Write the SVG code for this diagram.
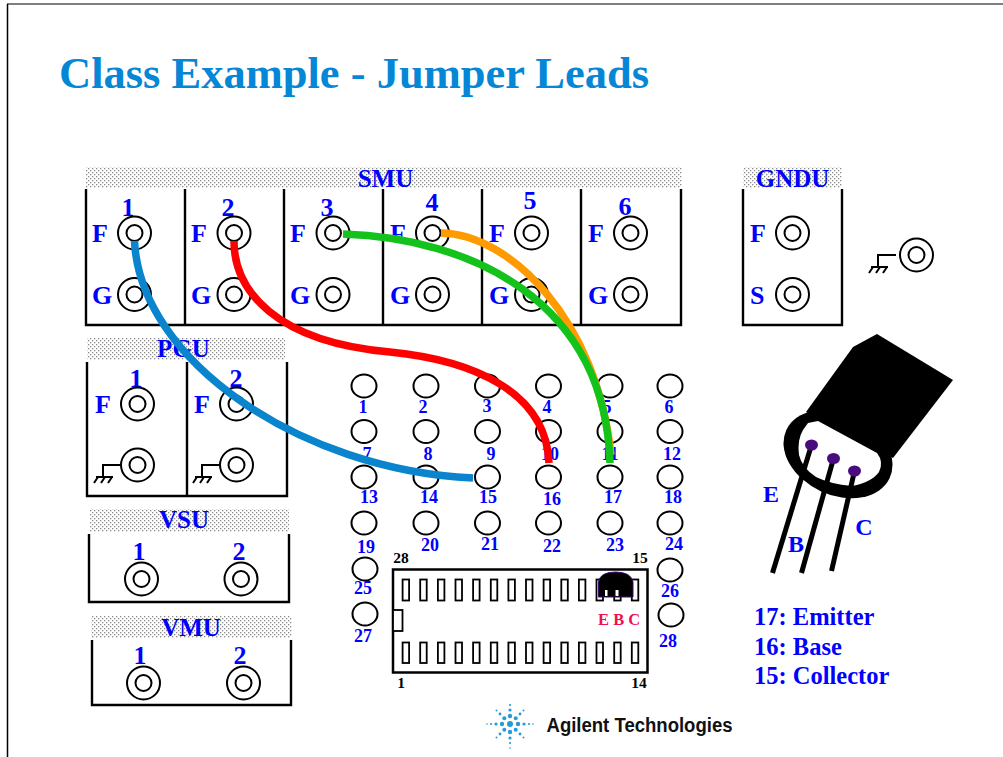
<svg xmlns="http://www.w3.org/2000/svg" xmlns:xlink="http://www.w3.org/1999/xlink" width="1003" height="757" viewBox="0 0 1003 757">
  <style>
    .lbl { font-family: "Liberation Serif", "Times New Roman", serif; font-weight: bold; fill: #0000ff; }
    .big { font-size: 26px; }
    .mid { text-anchor: middle; }
    .hdr { font-size: 25px; text-anchor: middle; }
    .num { font-size: 18px; text-anchor: middle; }
    .chipn { font-family: "Liberation Serif", serif; font-weight: bold; font-size: 15.5px; fill: #000; text-anchor: middle; }
    .frame { fill: none; stroke: #000; stroke-width: 2.4; }
    .band { fill: url(#dots); }
    .jack circle { fill: #fff; stroke: #000; stroke-width: 2; }
    .hole { fill: #fff; stroke: #000; stroke-width: 2; }
    .pin { fill: #fff; stroke: #000; stroke-width: 1.8; }
    .gnd { fill: none; stroke: #000; stroke-width: 2; }
    .cable { fill: none; stroke-width: 7.5; stroke-linecap: butt; }
    .lead { stroke: #000; stroke-width: 5; }
  </style>
  <defs>
    <pattern id="dots" width="4" height="4" patternUnits="userSpaceOnUse">
      <rect width="4" height="4" fill="#fff"/>
      <rect x="0" y="0" width="1.3" height="1.3" fill="#8a8a8a"/>
      <rect x="2" y="2" width="1.3" height="1.3" fill="#8a8a8a"/>
    </pattern>
    <g id="jack" class="jack">
      <circle r="16.5"/>
      <circle r="8"/>
    </g>
    <ellipse id="hole" class="hole" rx="12.5" ry="11.5"/>
    <!-- chassis ground: stub, bar and three hatch strokes -->
    <path id="gndsym" class="gnd" d="M0,0 H-18 V12 M-25,12 H-8 M-23,12 l-4,6 M-16,12 l-4,6 M-9,12 l-4,6"/>
  </defs>

  <rect width="1003" height="757" fill="#fff"/>
  <line x1="7" y1="4" x2="1003" y2="4" stroke="#555" stroke-width="1.5"/>
  <line x1="7.5" y1="4" x2="7.5" y2="757" stroke="#000" stroke-width="1.5"/>

  <text x="59" y="88" font-family="Liberation Serif, serif" font-weight="bold" font-size="44.5" fill="#0687d6">Class Example - Jumper Leads</text>

  <!-- SMU rack -->
  <g id="smu">
    <rect class="band" x="86" y="167" width="596" height="21"/>
    <text class="lbl hdr" x="385.5" y="187">SMU</text>
    <path class="frame" d="M86,189 V325 H681 V189 M185,189 V325 M284,189 V325 M383,189 V325 M482,189 V325 M581,189 V325"/>
    <g class="lbl big mid">
      <text x="128" y="216">1</text>
      <text x="228" y="216">2</text>
      <text x="327" y="216">3</text>
      <text x="432" y="211">4</text>
      <text x="530" y="209">5</text>
      <text x="625" y="215">6</text>
    </g>
    <g class="lbl big">
      <text x="92" y="242">F</text><text x="92" y="304">G</text>
      <text x="191" y="242">F</text><text x="191" y="304">G</text>
      <text x="290" y="242">F</text><text x="290" y="304">G</text>
      <text x="390" y="242">F</text><text x="390" y="304">G</text>
      <text x="489" y="242">F</text><text x="489" y="304">G</text>
      <text x="588" y="242">F</text><text x="588" y="304">G</text>
    </g>
    <use href="#jack" x="134.5" y="233"/><use href="#jack" x="134.5" y="294.5"/>
    <use href="#jack" x="234" y="233"/><use href="#jack" x="234" y="294.5"/>
    <use href="#jack" x="333" y="233"/><use href="#jack" x="333" y="294.5"/>
    <use href="#jack" x="432.5" y="233"/><use href="#jack" x="432.5" y="294.5"/>
    <use href="#jack" x="531.5" y="233"/><use href="#jack" x="531.5" y="294.5"/>
    <use href="#jack" x="630.5" y="233"/><use href="#jack" x="630.5" y="294.5"/>
  </g>

  <!-- GNDU -->
  <g id="gndu">
    <rect class="band" x="743" y="167" width="99" height="21"/>
    <text class="lbl hdr" x="792.5" y="187">GNDU</text>
    <path class="frame" d="M743,189 V325 H842 V189"/>
    <text class="lbl big" x="750" y="242">F</text>
    <text class="lbl big" x="750" y="304">S</text>
    <use href="#jack" x="792.5" y="233"/>
    <use href="#jack" x="792.5" y="294.5"/>
  </g>

  <!-- chassis ground terminal -->
  <g id="ground-terminal">
    <use href="#gndsym" x="896" y="255"/>
    <use href="#jack" x="916.5" y="255"/>
  </g>

  <!-- PGU -->
  <g id="pgu">
    <rect class="band" x="87" y="338" width="198" height="22"/>
    <text class="lbl hdr" x="183.5" y="357">PGU</text>
    <path class="frame" d="M87,362 V496 H287 V362 M187,362 V496"/>
    <text class="lbl big mid" x="136" y="387">1</text>
    <text class="lbl big mid" x="236" y="387">2</text>
    <text class="lbl big" x="95" y="413">F</text>
    <text class="lbl big" x="194" y="413">F</text>
    <use href="#jack" x="137.5" y="404"/>
    <use href="#jack" x="236.5" y="404"/>
    <use href="#gndsym" x="121" y="465"/>
    <use href="#gndsym" x="220" y="465"/>
    <use href="#jack" x="137.5" y="465"/>
    <use href="#jack" x="236.5" y="465"/>
  </g>

  <!-- VSU -->
  <g id="vsu">
    <rect class="band" x="90" y="509" width="199" height="23"/>
    <text class="lbl hdr" x="184" y="528">VSU</text>
    <path class="frame" d="M89,534 V602 H289 V534"/>
    <text class="lbl big mid" x="139" y="560">1</text>
    <text class="lbl big mid" x="239" y="560">2</text>
    <use href="#jack" x="141.5" y="579"/>
    <use href="#jack" x="241" y="579"/>
  </g>

  <!-- VMU -->
  <g id="vmu">
    <rect class="band" x="91" y="616" width="201" height="22"/>
    <text class="lbl hdr" x="191" y="636">VMU</text>
    <path class="frame" d="M92,640 V705 H291 V640"/>
    <text class="lbl big mid" x="140" y="664">1</text>
    <text class="lbl big mid" x="240" y="664">2</text>
    <use href="#jack" x="143.5" y="683"/>
    <use href="#jack" x="243.5" y="683"/>
  </g>

  <!-- test fixture socket holes -->
  <g id="holes">
    <use href="#hole" x="364" y="386"/><use href="#hole" x="426" y="386"/><use href="#hole" x="487.5" y="386"/><use href="#hole" x="548.5" y="386"/><use href="#hole" x="610" y="386"/><use href="#hole" x="670" y="386"/>
    <use href="#hole" x="364" y="431.5"/><use href="#hole" x="426" y="431.5"/><use href="#hole" x="487.5" y="431.5"/><use href="#hole" x="548.5" y="431.5"/><use href="#hole" x="610" y="431.5"/><use href="#hole" x="670" y="431.5"/>
    <use href="#hole" x="364" y="477"/><use href="#hole" x="426" y="477"/><use href="#hole" x="487.5" y="477"/><use href="#hole" x="548.5" y="477"/><use href="#hole" x="610" y="477"/><use href="#hole" x="670" y="477"/>
    <use href="#hole" x="364" y="523"/><use href="#hole" x="426" y="523"/><use href="#hole" x="487.5" y="523"/><use href="#hole" x="548.5" y="523"/><use href="#hole" x="610" y="523"/><use href="#hole" x="670" y="523"/>
    <use href="#hole" x="365" y="569"/><use href="#hole" x="365" y="614"/>
    <use href="#hole" x="670" y="570"/><use href="#hole" x="671" y="615"/>
    <g class="lbl num">
      <text x="363" y="413">1</text><text x="423" y="413">2</text><text x="487" y="412">3</text><text x="547" y="413">4</text><text x="607" y="413">5</text><text x="669" y="413">6</text>
      <text x="367" y="460">7</text><text x="428" y="460">8</text><text x="491" y="460">9</text><text x="550" y="460">10</text><text x="610" y="460">11</text><text x="672" y="460">12</text>
      <text x="369" y="503">13</text><text x="429" y="503">14</text><text x="488" y="503">15</text><text x="552" y="505">16</text><text x="613" y="503">17</text><text x="673" y="503">18</text>
      <text x="366" y="553">19</text><text x="430" y="551">20</text><text x="490" y="550">21</text><text x="552" y="552">22</text><text x="615" y="551">23</text><text x="674" y="550">24</text>
      <text x="363" y="594">25</text><text x="670" y="597">26</text><text x="363" y="642">27</text><text x="668" y="647">28</text>
    </g>
  </g>

  <!-- 28-pin socket with the device fitted -->
  <g id="socket">
    <rect x="393" y="569.5" width="254.5" height="103" fill="#fff" stroke="#000" stroke-width="2.5"/>
    <rect class="pin" x="393" y="610" width="9.5" height="21"/>
    <g id="pins-top">
      <rect class="pin" x="402.6" y="579.5" width="6.5" height="21"/>
      <rect class="pin" x="420.2" y="579.5" width="6.5" height="21"/>
      <rect class="pin" x="437.9" y="579.5" width="6.5" height="21"/>
      <rect class="pin" x="455.5" y="579.5" width="6.5" height="21"/>
      <rect class="pin" x="473.1" y="579.5" width="6.5" height="21"/>
      <rect class="pin" x="490.8" y="579.5" width="6.5" height="21"/>
      <rect class="pin" x="508.4" y="579.5" width="6.5" height="21"/>
      <rect class="pin" x="526.0" y="579.5" width="6.5" height="21"/>
      <rect class="pin" x="543.6" y="579.5" width="6.5" height="21"/>
      <rect class="pin" x="561.3" y="579.5" width="6.5" height="21"/>
      <rect class="pin" x="578.9" y="579.5" width="6.5" height="21"/>
      <rect class="pin" x="596.5" y="579.5" width="6.5" height="21"/>
      <rect class="pin" x="614.2" y="579.5" width="6.5" height="21"/>
      <rect class="pin" x="631.8" y="579.5" width="6.5" height="21"/>
    </g>
    <g id="pins-bottom">
      <rect class="pin" x="402.6" y="642.5" width="6.5" height="20.5"/>
      <rect class="pin" x="420.2" y="642.5" width="6.5" height="20.5"/>
      <rect class="pin" x="437.9" y="642.5" width="6.5" height="20.5"/>
      <rect class="pin" x="455.5" y="642.5" width="6.5" height="20.5"/>
      <rect class="pin" x="473.1" y="642.5" width="6.5" height="20.5"/>
      <rect class="pin" x="490.8" y="642.5" width="6.5" height="20.5"/>
      <rect class="pin" x="508.4" y="642.5" width="6.5" height="20.5"/>
      <rect class="pin" x="526.0" y="642.5" width="6.5" height="20.5"/>
      <rect class="pin" x="543.6" y="642.5" width="6.5" height="20.5"/>
      <rect class="pin" x="561.3" y="642.5" width="6.5" height="20.5"/>
      <rect class="pin" x="578.9" y="642.5" width="6.5" height="20.5"/>
      <rect class="pin" x="596.5" y="642.5" width="6.5" height="20.5"/>
      <rect class="pin" x="614.2" y="642.5" width="6.5" height="20.5"/>
      <rect class="pin" x="631.8" y="642.5" width="6.5" height="20.5"/>
    </g>
    <!-- TO-92 package seen from above -->
    <path d="M598.5,597 V582 Q600,572 615.5,572 Q631,572 633,582 V597 Z" fill="#000" stroke="#3a0a6a" stroke-width="1"/>
    <rect x="605" y="590" width="2.5" height="6" fill="#fff"/>
    <rect x="615.5" y="590" width="3" height="6" fill="#fff"/>
    <text x="598" y="625" font-family="Liberation Serif, serif" font-weight="bold" font-size="16.5" fill="#f0104f">E B C</text>
    <text class="chipn" x="401" y="563">28</text>
    <text class="chipn" x="640" y="563">15</text>
    <text class="chipn" x="401" y="688">1</text>
    <text class="chipn" x="639" y="688">14</text>
  </g>

  <!-- jumper leads -->
  <g id="connectors">
    <path class="cable" stroke="#0a84cc" d="M134.5,241 C140,360 300,470 473,478"/>
    <path class="cable" stroke="#ff0000" d="M234,241 C234,290 275,342 390,352 C470,360 546,390 549,463"/>
    <path class="cable" stroke="#ff9a00" stroke-width="7" d="M441,233 C510,234 597,320 611,455"/>
    <path class="cable" stroke="#14c21c" stroke-width="7" d="M343,234 C470,238 605,300 610,463"/>
  </g>

  <!-- transistor pictorial -->
  <g id="transistor">
    <polygon points="853,347 877,334 953,380 893,458 806,412" fill="#000"/>
    <ellipse cx="838" cy="454" rx="57" ry="41" transform="rotate(25 838 454)" fill="#000"/>
    <path d="M808,423 L818,421 L877,453 Q884,462 879,472 Q872,482 852,486 Q830,484 816,477 Q802,468 799,455 Q797,440 803,430 Z" fill="#fff"/>
    <line class="lead" x1="811.5" y1="445" x2="772.5" y2="573"/>
    <line class="lead" x1="833.5" y1="458.5" x2="801.5" y2="573"/>
    <line class="lead" x1="854.5" y1="471" x2="831.5" y2="571"/>
    <ellipse cx="811.5" cy="445" rx="6.5" ry="5.5" fill="#4a0a80"/>
    <ellipse cx="833.5" cy="458.5" rx="6.5" ry="5.5" fill="#4a0a80"/>
    <ellipse cx="854.5" cy="471" rx="6.5" ry="5.5" fill="#4a0a80"/>
    <text class="lbl mid" font-size="24" x="771" y="502">E</text>
    <text class="lbl mid" font-size="24" x="796" y="552">B</text>
    <text class="lbl mid" font-size="24" x="864" y="535">C</text>
  </g>

  <g id="legend" class="lbl" font-size="24.5">
    <text x="754" y="625">17: Emitter</text>
    <text x="754" y="655">16: Base</text>
    <text x="754" y="684">15: Collector</text>
  </g>

  <!-- company mark -->
  <g id="logo">
    <g fill="#2a9ad6">
      <circle cx="510" cy="724" r="3"/>
      <circle cx="510" cy="716" r="2.2"/><circle cx="510" cy="710" r="1.6"/><circle cx="510" cy="705" r="1.1"/>
      <circle cx="510" cy="732" r="2.2"/><circle cx="510" cy="738" r="1.6"/><circle cx="510" cy="743" r="1.1"/><circle cx="510" cy="748" r="0.8"/>
      <circle cx="518" cy="724" r="2.2"/><circle cx="524" cy="724" r="1.6"/><circle cx="529" cy="724" r="1.1"/><circle cx="533" cy="724" r="0.8"/>
      <circle cx="502" cy="724" r="2.2"/><circle cx="496" cy="724" r="1.6"/><circle cx="491" cy="724" r="1.1"/><circle cx="487" cy="724" r="0.8"/>
      <circle cx="515.7" cy="718.3" r="2"/><circle cx="520" cy="714" r="1.4"/><circle cx="523.5" cy="710.5" r="1"/>
      <circle cx="504.3" cy="718.3" r="2"/><circle cx="500" cy="714" r="1.4"/><circle cx="496.5" cy="710.5" r="1"/>
      <circle cx="515.7" cy="729.7" r="2"/><circle cx="520" cy="734" r="1.4"/><circle cx="523.5" cy="737.5" r="1"/>
      <circle cx="504.3" cy="729.7" r="2"/><circle cx="500" cy="734" r="1.4"/><circle cx="496.5" cy="737.5" r="1"/>
    </g>
    <text x="546.5" y="732" font-family="Liberation Sans, Arial, sans-serif" font-weight="bold" font-size="20" fill="#111" textLength="186" lengthAdjust="spacingAndGlyphs">Agilent Technologies</text>
  </g>
</svg>
